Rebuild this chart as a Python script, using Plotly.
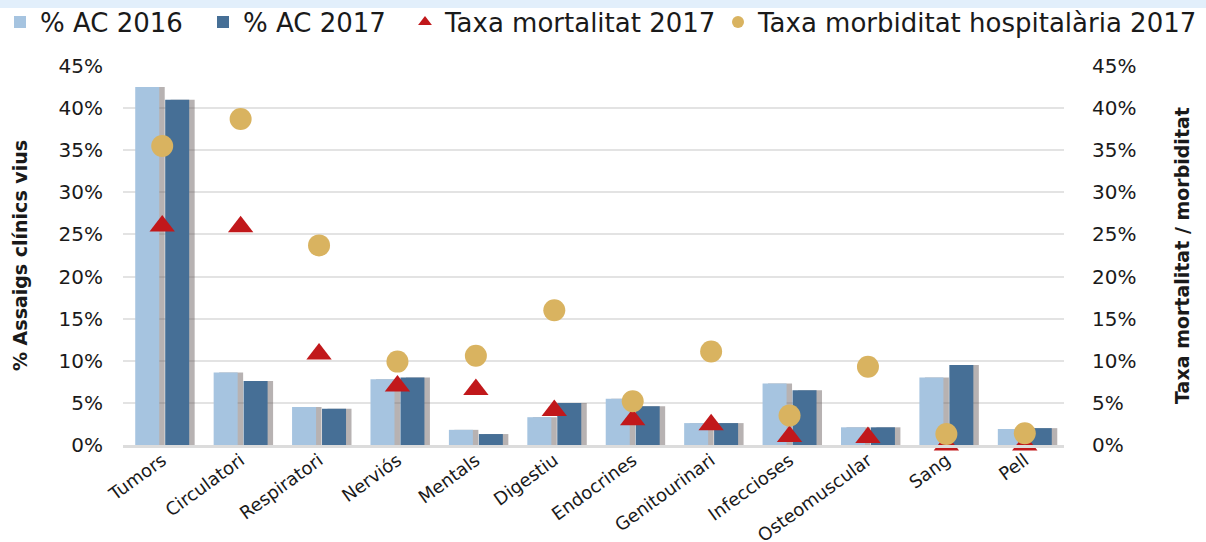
import plotly.graph_objects as go

categories = ["Tumors", "Circulatori", "Respiratori", "Nerviós", "Mentals", "Digestiu",
              "Endocrines", "Genitourinari", "Infeccioses", "Osteomuscular", "Sang", "Pell"]
ac_2016 = [42.5, 8.6, 4.5, 7.8, 1.8, 3.3, 5.5, 2.6, 7.3, 2.1, 8.0, 1.9]
ac_2017 = [41.0, 7.6, 4.3, 8.0, 1.3, 5.0, 4.6, 2.6, 6.5, 2.1, 9.5, 2.0]
mortalitat_2017 = [26.0, 25.9, 10.8, 7.0, 6.6, 4.1, 3.0, 2.4, 1.0, 0.9, 0.0, 0.0]
morbiditat_2017 = [35.5, 38.7, 23.7, 9.9, 10.6, 16.0, 5.2, 11.1, 3.5, 9.3, 1.3, 1.4]
y_ticks = [0, 5, 10, 15, 20, 25, 30, 35, 40, 45]
y_ticktext = [f"{v}%" for v in y_ticks]

x_idx = list(range(len(categories)))
FONT = "DejaVu Sans, Liberation Sans, Arial, sans-serif"
BW = 0.306
W, H = 1206, 542

fig = go.Figure()

# drop shadows
for vals, off in [(ac_2016, -0.344), (ac_2017, 0.038)]:
    fig.add_trace(go.Bar(x=x_idx, y=vals, width=BW, offset=off + 0.07,
                         marker=dict(color="rgba(95,85,85,0.45)", line_width=0),
                         showlegend=False, hoverinfo="skip"))

fig.add_trace(go.Bar(x=x_idx, y=ac_2016, name="% AC 2016", width=BW, offset=-0.344,
                     legend="legend",
                     marker=dict(color="#a6c4e0", line_width=0)))
fig.add_trace(go.Bar(x=x_idx, y=ac_2017, name="% AC 2017", width=BW, offset=0.038,
                     legend="legend2",
                     marker=dict(color="#466f96", line_width=0)))
fig.add_trace(go.Scatter(x=x_idx, y=mortalitat_2017, name="Taxa mortalitat 2017",
                         mode="markers", yaxis="y2", cliponaxis=False, legend="legend3",
                         marker=dict(symbol="triangle-up", size=22, color="#c1181b")))
fig.add_trace(go.Scatter(x=x_idx, y=morbiditat_2017, name="Taxa morbiditat hospitalària 2017",
                         mode="markers", yaxis="y2", cliponaxis=False, legend="legend4",
                         marker=dict(symbol="circle", size=22, color="#d9b360")))


def leg(x_px):
    return dict(orientation="h", xref="container", yref="container",
                x=x_px / W, y=1 - 22 / H, xanchor="left", yanchor="middle",
                font=dict(size=26, family=FONT, color="#1a1a1a"), itemsizing="constant",
                bgcolor="rgba(0,0,0,0)", borderwidth=0)


fig.update_layout(
    template="none",
    width=W, height=H,
    margin=dict(l=123, r=142, t=66, b=97, autoexpand=False),
    paper_bgcolor="white", plot_bgcolor="white",
    barmode="overlay",
    font=dict(family=FONT, color="#1a1a1a"),
    showlegend=True,
    legend=leg(-12), legend2=leg(203), legend3=leg(405), legend4=leg(718),
    xaxis=dict(tickmode="array", tickvals=x_idx, ticktext=categories,
               range=[-0.5, len(categories) - 0.5], tickangle=-36,
               tickfont=dict(size=18, family=FONT), showgrid=False, automargin=False,
               ticklabeloverflow="allow", ticklabelstandoff=-5,
               showline=True, linecolor="#dcdcdc", linewidth=3, ticks="", zeroline=False),
    yaxis=dict(range=[0, 45], tickmode="array", tickvals=y_ticks, ticktext=y_ticktext,
               tickfont=dict(size=20, family=FONT), showgrid=True, gridcolor="#e3e3e3",
               gridwidth=2, zeroline=False, ticks="outside", ticklen=15, automargin=False,
               tickcolor="rgba(0,0,0,0)", showline=False,
               title=dict(text="<b>% Assaigs clínics vius</b>", font=dict(size=19, family=FONT),
                          standoff=25)),
    yaxis2=dict(range=[0, 45], overlaying="y", side="right", tickmode="array",
                tickvals=y_ticks, ticktext=y_ticktext, tickfont=dict(size=20, family=FONT),
                showgrid=False, zeroline=False, ticks="outside", ticklen=23, automargin=False,
                tickcolor="rgba(0,0,0,0)", showline=False,
                title=dict(text="<b>Taxa mortalitat / morbiditat</b>",
                           font=dict(size=19, family=FONT), standoff=40)),
    shapes=[dict(type="rect", xref="paper", yref="paper", x0=-0.2, x1=1.2,
                 y0=1 + 58 / 379, y1=1 + 70 / 379, fillcolor="#e2effb", line_width=0,
                 layer="below")],
)

fig.write_html("out.html", config={"displayModeBar": False},
               post_script="document.body.style.margin='0';")
